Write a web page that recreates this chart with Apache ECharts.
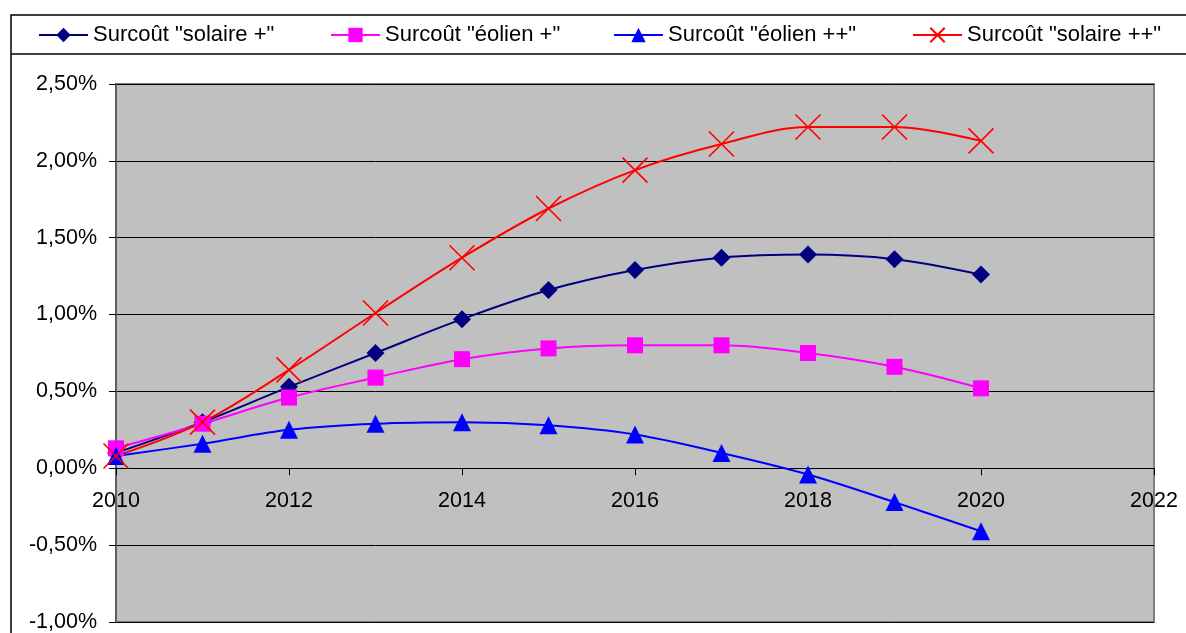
<!DOCTYPE html>
<html>
<head>
<meta charset="utf-8">
<title>Surcoût</title>
<script src="https://cdn.jsdelivr.net/npm/echarts@6/dist/echarts.min.js"></script>
<style>
  html, body { margin: 0; padding: 0; background: #fff; }
  #chart { width: 1186px; height: 633px; }
</style>
</head>
<body>
<div id="chart"></div>
<script>
// valeurs, en %
var years = [2010, 2011, 2012, 2013, 2014, 2015, 2016, 2017, 2018, 2019, 2020];
var solairePlus = [0.10, 0.30, 0.53, 0.75, 0.97, 1.16, 1.29, 1.37, 1.39, 1.36, 1.26];
var eolienPlus = [0.13, 0.29, 0.46, 0.59, 0.71, 0.78, 0.80, 0.80, 0.75, 0.66, 0.52];
var eolienPlusPlus = [0.08, 0.16, 0.25, 0.29, 0.30, 0.28, 0.22, 0.10, -0.04, -0.22, -0.41];
var solairePlusPlus = [0.08, 0.30, 0.64, 1.01, 1.37, 1.69, 1.94, 2.11, 2.22, 2.22, 2.13];
var seriesNames = ['Surcoût "solaire +"', 'Surcoût "éolien +"', 'Surcoût "éolien ++"', 'Surcoût "solaire ++"'];

var FONT = '"Liberation Sans", Arial, sans-serif';

function pairs(vals) {
  return vals.map(function (v, i) { return [years[i], v]; });
}

function mkSeries(name, vals, color, symbol, size, extra) {
  var s = {
    name: name,
    type: 'line',
    data: pairs(vals),
    smooth: 0.35,
    symbol: symbol,
    symbolSize: size,
    lineStyle: { color: color, width: 2 },
    itemStyle: { color: color },
    emphasis: { disabled: true }
  };
  if (extra) Object.assign(s, extra);
  return s;
}

function mkLegend(name, left) {
  return {
    data: [name],
    left: left,
    top: 24,
    itemWidth: 49,
    itemHeight: 18,
    itemGap: 0,
    padding: 0,
    textStyle: { fontFamily: FONT, fontSize: 22, color: '#000', padding: [0, 0, 0, 0] },
    selectedMode: false
  };
}

var chart = echarts.init(document.getElementById('chart'));
chart.setOption({
  animation: false,
  backgroundColor: '#fff',
  textStyle: { fontFamily: FONT },
  legend: [
    mkLegend(seriesNames[0], 38),
    mkLegend(seriesNames[1], 330),
    mkLegend(seriesNames[2], 613),
    mkLegend(seriesNames[3], 912)
  ],
  graphic: [
    { type: 'rect', silent: true, z: -1,
      shape: { x: 11, y: 15, width: 1300, height: 800 },
      style: { fill: 'none', stroke: '#000', lineWidth: 1.5 } },
    { type: 'line', silent: true, z: -1,
      shape: { x1: 11, y1: 54, x2: 1300, y2: 54 },
      style: { stroke: '#000', lineWidth: 1.5 } }
  ],
  grid: {
    left: 116, top: 84, right: 32, bottom: 11,
    containLabel: false,
    outerBoundsMode: 'none',
    show: true,
    backgroundColor: '#C0C0C0',
    borderColor: '#808080',
    borderWidth: 2
  },
  xAxis: {
    type: 'value',
    min: 2010, max: 2022, interval: 2,
    axisLine: { onZero: true, lineStyle: { color: '#000', width: 1 } },
    axisTick: { show: true, length: 7, lineStyle: { color: '#000' } },
    // les étiquettes restent au bas de la grille : on les remonte sous la ligne du zéro
    axisLabel: {
      fontFamily: FONT, fontSize: 21.5, color: '#000', margin: -132,
      formatter: function (v) { return String(v); }
    },
    splitLine: { show: false }
  },
  yAxis: {
    type: 'value',
    min: -1, max: 2.5, interval: 0.5,
    axisLine: { show: true, onZero: false, lineStyle: { color: '#606060', width: 2 } },
    axisTick: { show: true, length: 7, lineStyle: { color: '#000' } },
    axisLabel: {
      fontFamily: FONT, fontSize: 21.5, color: '#000', margin: 19,
      formatter: function (v) { return v.toFixed(2).replace('.', ',') + '%'; }
    },
    splitLine: { show: true, lineStyle: { color: '#000', width: 1 } }
  },
  series: [
    mkSeries(seriesNames[0], solairePlus, '#000080', 'diamond', 18),
    mkSeries(seriesNames[1], eolienPlus, '#FF00FF', 'rect', 16),
    mkSeries(seriesNames[2], eolienPlusPlus, '#0000FF', 'triangle', 18),
    mkSeries(seriesNames[3], solairePlusPlus, '#FF0000', 'path://M0,0L10,10M10,0L0,10', 25, {
      itemStyle: { color: 'rgba(0,0,0,0)', borderColor: '#FF0000', borderWidth: 1.6 }
    })
  ]
});
</script>
</body>
</html>
